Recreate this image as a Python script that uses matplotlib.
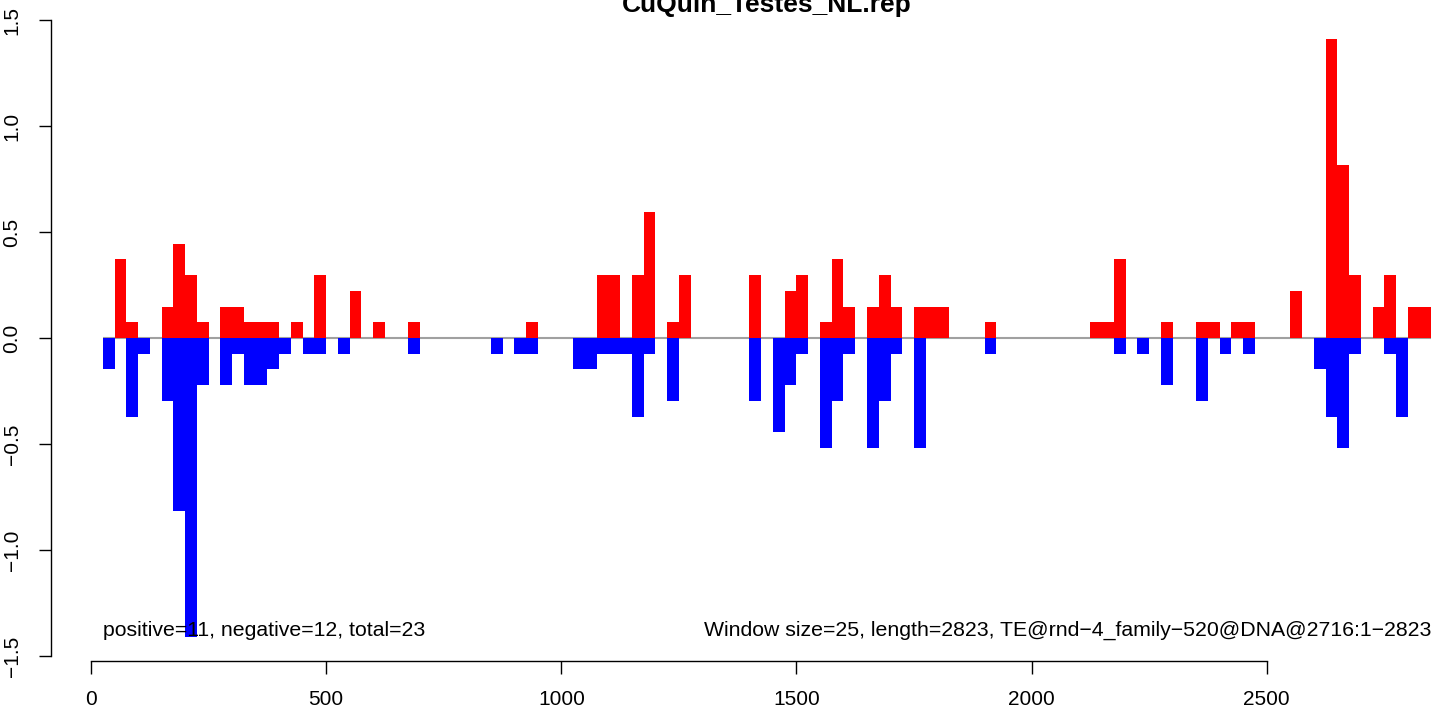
import matplotlib
matplotlib.use('Agg')
import matplotlib.pyplot as plt

# window start positions (window size 25) and the scores above / below zero
window_size = 25
starts = [25, 50, 75, 100, 150, 175, 200, 225, 275, 300, 325, 350, 375, 400,
          425, 450, 475, 525, 550, 600, 675, 850, 900, 925, 1025, 1050, 1075,
          1100, 1125, 1150, 1175, 1225, 1250, 1400, 1450, 1475, 1500, 1550,
          1575, 1600, 1650, 1675, 1700, 1750, 1775, 1800, 1900, 2125, 2150,
          2175, 2225, 2275, 2350, 2375, 2400, 2425, 2450, 2550, 2600, 2625,
          2650, 2675, 2725, 2750, 2775, 2800, 2825]
positive = [0.0, 0.371, 0.074, 0.0, 0.148, 0.445, 0.297, 0.074, 0.148, 0.148,
            0.074, 0.074, 0.074, 0.0, 0.074, 0.0, 0.297, 0.0, 0.223, 0.074,
            0.074, 0.0, 0.0, 0.074, 0.0, 0.0, 0.297, 0.297, 0.0, 0.297, 0.593,
            0.074, 0.297, 0.297, 0.0, 0.223, 0.297, 0.074, 0.371, 0.148, 0.148,
            0.297, 0.148, 0.148, 0.148, 0.148, 0.074, 0.074, 0.074, 0.371, 0.0,
            0.074, 0.074, 0.074, 0.0, 0.074, 0.074, 0.223, 0.0, 1.41, 0.816,
            0.297, 0.148, 0.297, 0.0, 0.148, 0.148]
negative = [-0.148, 0.0, -0.371, -0.074, -0.297, -0.816, -1.41, -0.223, -0.223,
            -0.074, -0.223, -0.223, -0.148, -0.074, 0.0, -0.074, -0.074,
            -0.074, 0.0, 0.0, -0.074, -0.074, -0.074, -0.074, -0.148, -0.148,
            -0.074, -0.074, -0.074, -0.371, -0.074, -0.297, 0.0, -0.297,
            -0.445, -0.223, -0.074, -0.519, -0.297, -0.074, -0.519, -0.297,
            -0.074, -0.519, 0.0, 0.0, -0.074, 0.0, 0.0, -0.074, -0.074,
            -0.223, -0.297, 0.0, -0.074, 0.0, -0.074, 0.0, -0.148, -0.371,
            -0.519, -0.074, 0.0, -0.074, -0.371, 0.0, 0.0]

title = 'CuQuin_Testes_NL.rep'
left_note = 'positive=11, negative=12, total=23'
right_note = 'Window size=25, length=2823, TE@rnd\u22124_family\u2212520@DNA@2716:1\u22122823'
x_ticks = [0, 500, 1000, 1500, 2000, 2500]
y_ticks = [-1.5, -1.0, -0.5, 0.0, 0.5, 1.0, 1.5]

plt.rcParams['font.family'] = ['Liberation Sans', 'DejaVu Sans']

fig = plt.figure(figsize=(14.49, 7.08), dpi=100)
# plot region runs past the right edge, like the cropped R device
ax = fig.add_axes([0.035, 0.06638, 0.98918, 0.91243])
ax.set_xlim(-85.7, 2962)
ax.set_ylim(-1.5236, 1.5236)

# zero line, then the bars
ax.hlines(0, starts[0], starts[-1] + window_size, color='#A0A0A0', lw=1.5, zorder=1)
ax.bar(starts, positive, width=window_size, align='edge', color='#FF0000', linewidth=0, zorder=2)
ax.bar(starts, negative, width=window_size, align='edge', color='#0000FF', linewidth=0, zorder=2)

ax.text(25, -1.38, left_note, ha='left', va='center', fontsize=15.3)
ax.text(2850, -1.38, right_note, ha='right', va='center', fontsize=15.3)

# R style axes
for side in ['top', 'right']:
    ax.spines[side].set_visible(False)
ax.spines['left'].set_bounds(-1.5, 1.5)
ax.spines['bottom'].set_bounds(0, 2500)
ax.spines['left'].set_linewidth(1.0)
ax.spines['bottom'].set_linewidth(1.0)
ax.set_xticks(x_ticks)
ax.set_xticklabels([str(t) for t in x_ticks])
ax.set_yticks(y_ticks)
ax.set_yticklabels([('%.1f' % t).replace('-', '\u2212') for t in y_ticks],
                   rotation=90, va='center')
ax.tick_params(axis='both', length=9, width=1.0, labelsize=15, pad=12)

fig.text(767 / 1449, 1 - 12 / 708, title, ha='center', va='baseline',
         fontsize=19, fontweight='bold')

fig.savefig('out.png', dpi=100)
